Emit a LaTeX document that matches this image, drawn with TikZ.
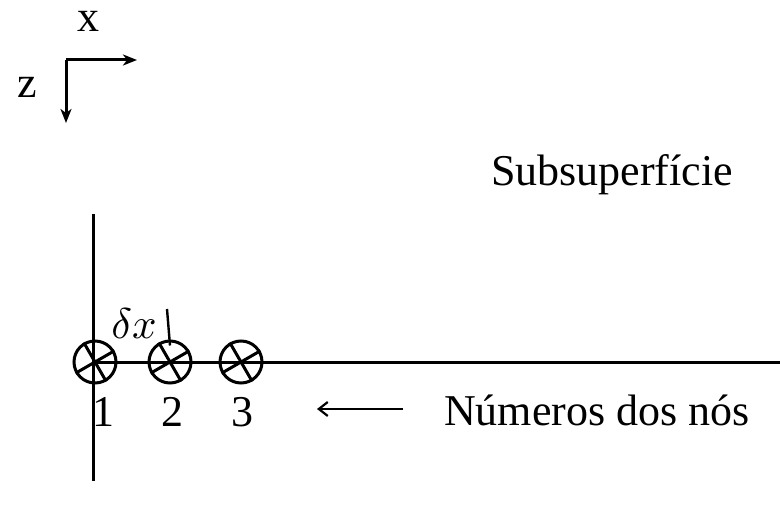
\documentclass[tikz,border=0pt]{standalone}
\usepackage{graphicx}
\usepackage{fontspec}
\setmainfont{Liberation Serif}
\usetikzlibrary{arrows.meta}
\begin{document}
\begin{tikzpicture}[x=1pt,y=-1pt,line width=3pt,
  lbl/.style={inner sep=0pt,font=\fontsize{44}{52}\selectfont},
  nodecirc/.style={circle,draw,line width=3pt,minimum size=42pt,inner sep=0pt},
  axarrow/.style={-{Stealth[length=14pt,width=11pt,inset=4pt]}},
  numarrow/.style={-{Straight Barb[length=9pt,width=14pt]},line width=2.2pt}]
\useasboundingbox (0,0) rectangle (780,508);
% axes
\coordinate (o) at (66,60);
\coordinate (ax) at (137,60);
\coordinate (az) at (66,123);
\draw[axarrow] (o) -- (ax);
\draw[axarrow] (o) -- (az);
\node[lbl] (lx) at (88,21) {x};
\node[lbl] (lz) at (27,87) {z};
% title
\node[lbl] (sub) at (612,175) {Subsuperfície};
% lines
\coordinate (vt) at (93,214);
\coordinate (vb) at (93,481);
\coordinate (hl) at (93,362);
\coordinate (hr) at (780,362);
\draw (vt) -- (vb);
\draw (hl) -- (hr);
% circles
\foreach \i/\x in {1/95,2/170,3/241}{
  \node[nodecirc] (c\i) at (\x,362) {};
  \draw (c\i.210) -- (c\i.30);
  \draw (c\i.120) -- (c\i.300);
}
% delta x
\node[inner sep=0pt] (dx) at (134,324) {\scalebox{4.3}{$\delta x$}};
\coordinate (tk) at (167,309);
\draw[line width=2.4pt] (tk) -- ([yshift=-6pt]c2.north);
% numbers
\node[lbl] (n1) at (103,412) {1};
\node[lbl] (n2) at (172,412) {2};
\node[lbl] (n3) at (242,412) {3};
\coordinate (as) at (403,409);
\draw[numarrow] (as) -- (317,409);
\node[lbl] (num) at (597,410) {Números dos nós};
\end{tikzpicture}
\end{document}
